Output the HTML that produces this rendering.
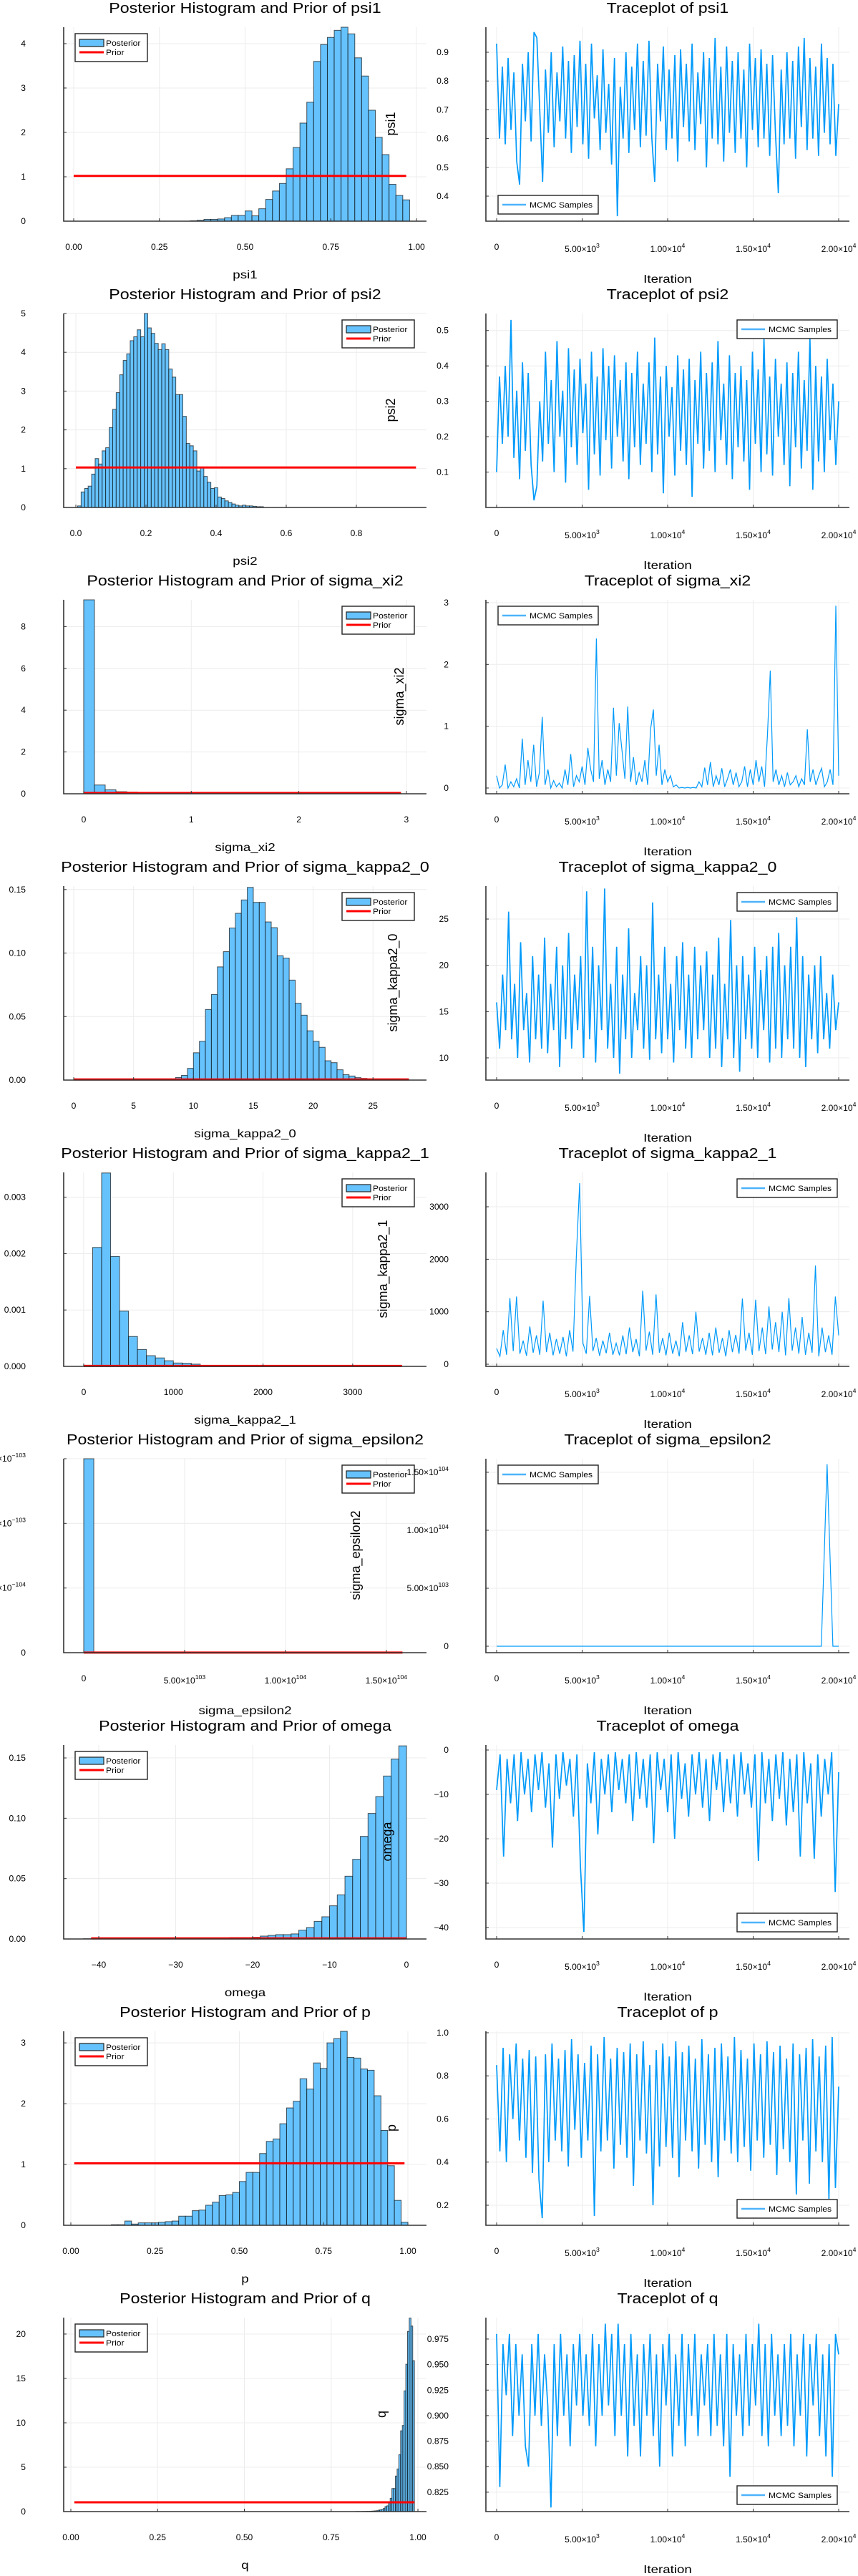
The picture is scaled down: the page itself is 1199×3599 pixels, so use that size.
<!DOCTYPE html>
<html><head><meta charset="utf-8"><title>MCMC posterior histograms and traceplots</title>
<style>
html,body{margin:0;padding:0;background:#fff;}
svg{display:block;font-family:"Liberation Sans","DejaVu Sans",sans-serif;}
</style></head>
<body>
<svg id="fig" width="1199" height="3599" viewBox="0 0 1199 3599" xmlns="http://www.w3.org/2000/svg"></svg>
<script>
// ---------------- DATA ----------------
const iterTicks=[0,5000,10000,15000,20000];
const iterTickLabels=["0","5.00×10^3","1.00×10^4","1.50×10^4","2.00×10^4"];

const psi1Heights=[0.01,0.02,0.04,0.04,0.05,0.08,0.13,0.13,0.23,0.12,0.28,0.49,0.68,0.85,1.18,1.66,2.21,2.68,3.6,3.98,4.14,4.3,4.37,4.22,3.68,3.27,2.5,1.89,1.5,0.83,0.58,0.48];
const psi1Bin=[0.34,0.02];
const psi1Prior=[1.02,0,0.97];
const psi1XTicks=[0,0.25,0.5,0.75,1];
const psi1XTickLabels=["0.00","0.25","0.50","0.75","1.00"];
const psi1YTicks=[0,1,2,3,4];
const psi1YTickLabels=["0","1","2","3","4"];
const psi1Trace=[0.93,0.6,0.85,0.58,0.88,0.63,0.83,0.52,0.44,0.86,0.66,0.9,0.59,0.97,0.95,0.7,0.45,0.84,0.62,0.9,0.57,0.83,0.66,0.92,0.6,0.87,0.55,0.89,0.64,0.94,0.58,0.86,0.53,0.93,0.67,0.82,0.56,0.91,0.62,0.79,0.51,0.88,0.33,0.78,0.6,0.9,0.55,0.85,0.63,0.93,0.57,0.87,0.61,0.94,0.6,0.45,0.86,0.66,0.92,0.56,0.84,0.6,0.89,0.52,0.91,0.64,0.86,0.59,0.93,0.56,0.83,0.65,0.9,0.5,0.88,0.6,0.95,0.58,0.85,0.52,0.92,0.62,0.87,0.55,0.9,0.6,0.84,0.5,0.93,0.63,0.88,0.57,0.91,0.6,0.86,0.54,0.89,0.62,0.41,0.84,0.58,0.9,0.6,0.87,0.53,0.92,0.64,0.95,0.56,0.88,0.6,0.85,0.54,0.93,0.62,0.88,0.58,0.86,0.54,0.72];
const psi1TraceTicks=[0.4,0.5,0.6,0.7,0.8,0.9];
const psi1TraceTickLabels=["0.4","0.5","0.6","0.7","0.8","0.9"];

const psi2Heights=[0.04,0.4,0.49,0.55,0.86,1.26,1.12,1.46,1.54,2.06,2.53,2.96,3.42,3.79,3.96,4.3,4.4,4.58,4.4,5.0,4.63,4.49,4.23,4.07,4.22,4.07,3.57,3.36,2.91,2.91,2.35,1.65,1.59,1.46,0.94,1.02,0.8,0.65,0.49,0.51,0.27,0.23,0.17,0.13,0.09,0.06,0.04,0.06,0.04,0.04,0.03,0.02,0.02];
const psi2Bin=[0.005,0.01];
const psi2Prior=[1.03,0,0.97];
const psi2XTicks=[0,0.2,0.4,0.6,0.8];
const psi2XTickLabels=["0.0","0.2","0.4","0.6","0.8"];
const psi2YTicks=[0,1,2,3,4,5];
const psi2YTickLabels=["0","1","2","3","4","5"];
const psi2Trace=[0.1,0.37,0.18,0.4,0.2,0.53,0.14,0.33,0.08,0.41,0.16,0.38,0.12,0.02,0.06,0.3,0.13,0.44,0.18,0.36,0.1,0.47,0.2,0.33,0.07,0.45,0.17,0.39,0.12,0.42,0.21,0.35,0.05,0.44,0.15,0.37,0.09,0.45,0.19,0.4,0.11,0.43,0.2,0.36,0.13,0.41,0.08,0.38,0.17,0.44,0.12,0.35,0.18,0.41,0.1,0.48,0.15,0.37,0.04,0.4,0.2,0.34,0.09,0.43,0.16,0.39,0.12,0.42,0.03,0.36,0.18,0.44,0.11,0.38,0.16,0.41,0.1,0.47,0.19,0.35,0.12,0.43,0.08,0.38,0.17,0.4,0.13,0.36,0.05,0.44,0.18,0.39,0.1,0.48,0.15,0.37,0.09,0.42,0.2,0.35,0.12,0.41,0.06,0.38,0.17,0.44,0.11,0.36,0.16,0.48,0.05,0.4,0.13,0.37,0.1,0.42,0.19,0.35,0.12,0.3];
const psi2TraceTicks=[0.1,0.2,0.3,0.4,0.5];
const psi2TraceTickLabels=["0.1","0.2","0.3","0.4","0.5"];

const xi2Heights=[9.28,0.42,0.19,0.1,0.08,0.03,0.03,0.02,0.01,0.01,0.01,0.005,0.005,0.003,0.003,0.002,0.002,0.001,0.001,0.001];
const xi2Bin=[0,0.1];
const xi2Prior=[0.04,0,2.95];
const xi2XTicks=[0,1,2,3];
const xi2XTickLabels=["0","1","2","3"];
const xi2YTicks=[0,2,4,6,8];
const xi2YTickLabels=["0","2","4","6","8"];
const xi2Trace=[0.2,0,0.05,0.38,0,0.1,0.02,0.15,0,0.8,0.05,0.45,0.1,0.7,0.02,0.25,1.15,0.05,0.3,0,0.12,0.02,0.08,0,0.3,0.05,0.55,0.02,0.2,0.1,0.35,0.05,0.65,0.3,0.1,2.42,0.15,0.45,0.05,0.3,0.1,1.3,0.2,1.05,0.6,0.15,1.32,0.1,0.5,0.05,0.25,0.1,0.45,0.05,0.95,1.27,0.2,0.7,0.05,0.3,0.1,0.2,0.02,0.05,0,0.01,0,0.01,0,0.01,0,0.1,0.02,0.33,0.05,0.42,0.02,0.2,0.05,0.32,0.02,0.15,0.3,0.05,0.25,0.02,0.1,0.35,0.02,0.3,0.05,0.45,0.1,0.35,0.02,0.85,1.9,0.1,0.3,0.05,0.2,0.02,0.25,0.05,0.1,0.2,0.02,0.15,0.05,0.95,0.1,0.3,0.05,0.2,0.32,0.02,0.1,0.3,0.05,2.95,0.2];
const xi2TraceTicks=[0,1,2,3];
const xi2TraceTickLabels=["0","1","2","3"];

const k0Heights=[0.0006,0.002,0.0037,0.0092,0.0215,0.0305,0.0556,0.0674,0.0891,0.1011,0.1197,0.1313,0.1418,0.1517,0.1399,0.1399,0.1245,0.12,0.0979,0.096,0.0787,0.0605,0.0511,0.0388,0.0305,0.0258,0.0152,0.0137,0.0081,0.0043,0.0032,0.0019,0.0013,0.0009,0.0007,0.0004,0.0004,0.0009,0.0002,0.0002];
const k0Bin=[8,0.5];
const k0Prior=[0.0005,0,28];
const k0XTicks=[0,5,10,15,20,25];
const k0XTickLabels=["0","5","10","15","20","25"];
const k0YTicks=[0,0.05,0.1,0.15];
const k0YTickLabels=["0.00","0.05","0.10","0.15"];
const k0Trace=[16,11,19,13,25.8,12,18,10,22.5,13,17,9.5,21,12,19,11,23,10.5,18,13,22,9,20,12,23.5,11,19,13,21,10,28,12,22,9.5,20,13,28.3,11,18,10,22,8.3,19,12,24,10,17,13,21,11,20,9.8,26.8,12,19,10.5,22,12,18,9.5,21,13,22.5,11,19,10,22,12,20,13,21.5,10,19,11,23,9,18,12,24.9,10,20,8.5,21,12,19,11,22,10,19.5,13,21,9.5,22,11,23.5,10,20,12,22,11,25.2,10,21,9,19,12,20,10.5,21,12,17,11,19,13,16];
const k0TraceTicks=[10,15,20,25];
const k0TraceTickLabels=["10","15","20","25"];

const k1Heights=[0.00002,0.00211,0.00343,0.00195,0.00098,0.00053,0.0003,0.00019,0.00015,0.0001,0.00006,0.000055,0.00004,0.00001,0.000008,0.000006,0.000005,0.000004,0.000003,0.000003];
const k1Bin=[0,100];
const k1Prior=[0.000008,0,3550];
const k1XTicks=[0,1000,2000,3000];
const k1XTickLabels=["0","1000","2000","3000"];
const k1YTicks=[0,0.001,0.002,0.003];
const k1YTickLabels=["0.000","0.001","0.002","0.003"];
const k1Trace=[300,150,650,180,1260,250,1290,200,450,160,720,220,550,180,1210,230,600,170,480,200,520,150,650,240,2050,3450,400,200,1300,250,500,160,450,210,600,180,400,170,550,190,700,230,480,150,1400,260,620,180,1330,220,500,170,600,200,450,150,800,230,550,190,1000,240,500,180,600,170,700,220,500,150,650,230,560,200,1250,260,600,180,1230,250,700,190,1100,280,800,230,1000,170,1260,260,700,200,900,180,600,220,1880,150,700,230,550,180,1290,550];
const k1TraceTicks=[0,1000,2000,3000];
const k1TraceTickLabels=["0","1000","2000","3000"];

const epsHeights=[1.5e-103];
const epsBin=[0,5e102];
const epsPrior=[1e-106,0,1.58e104];
const epsXTicks=[0,5e103,1e104,1.5e104];
const epsXTickLabels=["0","5.00×10^103","1.00×10^104","1.50×10^104"];
const epsYTicks=[0,5e-104,1e-103,1.5e-103];
const epsYTickLabels=["0","5.00×10^−104","1.00×10^−103","1.50×10^−103"];
const epsTrace=[0,0,0,0,0,0,0,0,0,0,0,0,0,0,0,0,0,0,0,0,0,0,0,0,0,0,0,0,0,0,0,0,0,0,0,0,0,0,0,0,0,0,0,0,0,0,0,0,0,0,0,0,0,0,0,0,0,1.57e104,0,0];
const epsTraceTicks=[0,5e103,1e104,1.5e104];
const epsTraceTickLabels=["0","5.00×10^103","1.00×10^104","1.50×10^104"];

const omegaHeights=[0.0002,0.0002,0.0002,0.0002,0.0002,0.0002,0.0002,0.0002,0.0002,0.0002,0.0002,0.0002,0.0002,0.0002,0.0002,0.0002,0.0002,0.0002,0.0002,0.0012,0.0012,0.0012,0.0014,0.0024,0.003,0.0036,0.0036,0.0042,0.0073,0.0095,0.0146,0.0184,0.0275,0.0366,0.052,0.066,0.085,0.104,0.118,0.135,0.149,0.16];
const omegaBin=[-42,1];
const omegaPrior=[0.0005,-41,0];
const omegaXTicks=[-40,-30,-20,-10,0];
const omegaXTickLabels=["−40","−30","−20","−10","0"];
const omegaYTicks=[0,0.05,0.1,0.15];
const omegaYTickLabels=["0.00","0.05","0.10","0.15"];
const omegaTrace=[-9,-1,-24,-2,-12,-1,-16,-0.5,-10,-2,-14,-1,-9,-0.5,-13,-3,-22,-1,-11,-0.5,-8,-2,-15,-1,-26,-41,-3,-12,-0.5,-19,-2,-10,-1,-14,-0.5,-9,-2,-12,-1,-16,-0.5,-11,-2,-13,-1,-21,-0.5,-9,-2,-14,-1,-20,-0.5,-11,-3,-15,-1,-10,-0.5,-13,-2,-16,-1,-9,-0.5,-14,-2,-12,-1,-15,-0.5,-10,-3,-13,-1,-25,-0.5,-12,-2,-16,-1,-11,-0.5,-17,-2,-14,-1,-24,-0.5,-12,-3,-24.5,-1,-15,-2,-10,-0.5,-32,-5];
const omegaTraceTicks=[-40,-30,-20,-10,0];
const omegaTraceTickLabels=["−40","−30","−20","−10","0"];

const pHeights=[0.01,0.01,0.07,0.02,0.04,0.04,0.04,0.05,0.06,0.07,0.15,0.15,0.24,0.25,0.33,0.38,0.49,0.5,0.54,0.72,0.87,0.87,1.18,1.38,1.42,1.67,1.93,2.04,2.41,2.24,2.67,2.58,3.0,3.07,3.2,2.76,2.75,2.57,2.55,2.13,1.56,0.98,0.41,0.05];
const pBin=[0.12,0.02];
const pPrior=[1.02,0.01,0.99];
const pXTicks=[0,0.25,0.5,0.75,1];
const pXTickLabels=["0.00","0.25","0.50","0.75","1.00"];
const pYTicks=[0,1,2,3];
const pYTickLabels=["0","1","2","3"];
const pTrace=[0.85,0.45,0.93,0.4,0.9,0.6,0.95,0.5,0.88,0.42,0.92,0.35,0.89,0.32,0.14,0.9,0.4,0.95,0.5,0.88,0.45,0.92,0.38,0.97,0.55,0.9,0.42,0.86,0.5,0.94,0.15,0.9,0.45,0.98,0.5,0.88,0.37,0.93,0.48,0.91,0.42,0.95,0.29,0.9,0.5,0.96,0.44,0.85,0.2,0.92,0.38,0.95,0.47,0.89,0.42,0.96,0.33,0.91,0.5,0.94,0.45,0.88,0.37,0.97,0.48,0.9,0.4,0.93,0.33,0.95,0.5,0.89,0.44,0.98,0.4,0.92,0.47,0.88,0.36,0.95,0.5,0.9,0.42,0.96,0.48,0.91,0.34,0.94,0.46,0.88,0.4,0.95,0.25,0.9,0.5,0.93,0.3,0.97,0.45,0.89,0.4,0.94,0.23,0.98,0.28,0.75];
const pTraceTicks=[0.2,0.4,0.6,0.8,1.0];
const pTraceTickLabels=["0.2","0.4","0.6","0.8","1.0"];

const qHeights=[0.01,0.01,0.01,0.01,0.02,0.02,0.03,0.03,0.04,0.05,0.06,0.08,0.1,0.16,0.19,0.24,0.35,0.56,0.65,1.0,1.5,2.6,2.6,4.0,4.8,6.4,9.1,9.7,13.6,16.6,20.3,21.8,20.9,17.0];
const qBin=[0.82,0.005];
const qPrior=[1.05,0.01,0.99];
const qXTicks=[0,0.25,0.5,0.75,1];
const qXTickLabels=["0.00","0.25","0.50","0.75","1.00"];
const qYTicks=[0,5,10,15,20];
const qYTickLabels=["0","5","10","15","20"];
const qTrace=[0.98,0.83,0.97,0.92,0.98,0.88,0.97,0.9,0.96,0.87,0.85,0.97,0.9,0.98,0.89,0.96,0.91,0.81,0.97,0.88,0.98,0.9,0.96,0.87,0.97,0.91,0.98,0.9,0.96,0.89,0.98,0.87,0.97,0.9,0.99,0.91,0.98,0.88,0.99,0.9,0.97,0.86,0.98,0.89,0.96,0.86,0.97,0.9,0.98,0.88,0.96,0.85,0.97,0.91,0.98,0.86,0.96,0.89,0.98,0.87,0.97,0.9,0.98,0.88,0.96,0.91,0.97,0.88,0.98,0.89,0.96,0.87,0.98,0.84,0.97,0.9,0.96,0.88,0.98,0.89,0.97,0.91,0.99,0.88,0.97,0.87,0.98,0.9,0.96,0.88,0.97,0.89,0.98,0.87,0.96,0.9,0.98,0.86,0.97,0.91,0.98,0.88,0.96,0.86,0.97,0.84,0.98,0.96];
const qTraceTicks=[0.825,0.85,0.875,0.9,0.925,0.95,0.975];
const qTraceTickLabels=["0.825","0.850","0.875","0.900","0.925","0.950","0.975"];

// ---------------- LAYOUT (not data) ----------------
const panels=[
 {key:'psi1',h:psi1Heights,bin:psi1Bin,prior:psi1Prior,xt:psi1XTicks,xl:psi1XTickLabels,yt:psi1YTicks,yl:psi1YTickLabels,tr:psi1Trace,tt:psi1TraceTicks,tl:psi1TraceTickLabels,
  xd:[-0.0292,1.0292],yd:[0,4.37],td:[0.313,0.987],leg:'tl',tleg:'bl',ylx:546,tw:1.7},
 {key:'psi2',h:psi2Heights,bin:psi2Bin,prior:psi2Prior,xt:psi2XTicks,xl:psi2XTickLabels,yt:psi2YTicks,yl:psi2YTickLabels,tr:psi2Trace,tt:psi2TraceTicks,tl:psi2TraceTickLabels,
  xd:[-0.0347,1.0],yd:[0,5.0],td:[0.0,0.548],leg:'tr',tleg:'tr',ylx:546,tw:1.7},
 {key:'sigma_xi2',h:xi2Heights,bin:xi2Bin,prior:xi2Prior,xt:xi2XTicks,xl:xi2XTickLabels,yt:xi2YTicks,yl:xi2YTickLabels,tr:xi2Trace,tt:xi2TraceTicks,tl:xi2TraceTickLabels,
  xd:[-0.186,3.187],yd:[0,9.28],td:[-0.093,3.046],leg:'tr',tleg:'tl',ylx:558,tw:1.2},
 {key:'sigma_kappa2_0',h:k0Heights,bin:k0Bin,prior:k0Prior,xt:k0XTicks,xl:k0XTickLabels,yt:k0YTicks,yl:k0YTickLabels,tr:k0Trace,tt:k0TraceTicks,tl:k0TraceTickLabels,
  xd:[-0.84,29.47],yd:[0,0.1527],td:[7.6,28.56],leg:'tr',tleg:'tr',ylx:549,tw:1.7},
 {key:'sigma_kappa2_1',h:k1Heights,bin:k1Bin,prior:k1Prior,xt:k1XTicks,xl:k1XTickLabels,yt:k1YTicks,yl:k1YTickLabels,tr:k1Trace,tt:k1TraceTicks,tl:k1TraceTickLabels,
  xd:[-223,3823],yd:[0,0.00344],td:[-41,3655],leg:'tr',tleg:'tr',ylx:535,tw:1.2},
 {key:'sigma_epsilon2',h:epsHeights,bin:epsBin,prior:epsPrior,xt:epsXTicks,xl:epsXTickLabels,yt:epsYTicks,yl:epsYTickLabels,tr:epsTrace,tt:epsTraceTicks,tl:epsTraceTickLabels,
  xd:[-9.93e102,1.699e104],yd:[0,1.5e-103],td:[-5.56e102,1.617e104],leg:'tr',tleg:'tl',ylx:497,sup:true,tw:1.2},
 {key:'omega',h:omegaHeights,bin:omegaBin,prior:omegaPrior,xt:omegaXTicks,xl:omegaXTickLabels,yt:omegaYTicks,yl:omegaYTickLabels,tr:omegaTrace,tt:omegaTraceTicks,tl:omegaTraceTickLabels,
  xd:[-44.56,2.6],yd:[0,0.1607],td:[-42.58,1.13],leg:'tl',tleg:'br',ylx:541,tw:1.7},
 {key:'p',h:pHeights,bin:pBin,prior:pPrior,xt:pXTicks,xl:pXTickLabels,yt:pYTicks,yl:pYTickLabels,tr:pTrace,tt:pTraceTicks,tl:pTraceTickLabels,
  xd:[-0.0212,1.0552],yd:[0,3.19],td:[0.107,1.0066],leg:'tl',tleg:'br',ylx:547,tw:1.7},
 {key:'q',h:qHeights,bin:qBin,prior:qPrior,xt:qXTicks,xl:qXTickLabels,yt:qYTicks,yl:qYTickLabels,tr:qTrace,tt:qTraceTicks,tl:qTraceTickLabels,
  xd:[-0.0206,1.0247],yd:[0,21.85],td:[0.806,0.996],leg:'tl',tleg:'br',ylx:533,tw:1.7}
];

const NS='http://www.w3.org/2000/svg';
const svg=document.getElementById('fig');
function mk(tag,parent){const e=document.createElementNS(NS,tag);(parent||svg).appendChild(e);return e;}
function setA(e,o){for(const k in o)e.setAttribute(k,o[k]);return e;}
function txt(parent,str,x,y,size,anchor,stretch){
  const t=mk('text',parent);
  setA(t,{x:x,y:y,'font-size':size,'text-anchor':anchor||'middle',fill:'#000'});
  const parts=str.split('^');
  t.appendChild(document.createTextNode(parts[0]));
  if(parts.length>1){const s=mk('tspan',t);setA(s,{dy:-6,'font-size':size*0.72});s.textContent=parts[1];}
  if(stretch){try{const L=t.getComputedTextLength();if(L>0){t.setAttribute('textLength',L*stretch);t.setAttribute('lengthAdjust','spacingAndGlyphs');}}catch(e){}}
  return t;
}
const TOP=38,BOT=309;
const L0=89,L1=596,R0=679,R1=1187;

function legendBox(g,x,y,w,h){
  const r=mk('rect',g);setA(r,{x:x,y:y,width:w,height:h,fill:'#fff',stroke:'#222','stroke-width':1.4});
}

panels.forEach((P,r)=>{
  const y0=r*400;
  const row=mk('g');
  
  

  // ---------- histogram panel ----------
  const g=mk('g',row);
  
  
  const X=v=>L0+(v-P.xd[0])/(P.xd[1]-P.xd[0])*(L1-L0);
  const Y=v=>y0+BOT-(v-P.yd[0])/(P.yd[1]-P.yd[0])*(BOT-TOP);
  const grid=mk('g',g);
  
  
  P.xt.forEach(v=>{const l=mk('line',grid);setA(l,{x1:X(v),x2:X(v),y1:y0+TOP,y2:y0+BOT,stroke:'#ececec','stroke-width':1});});
  P.yt.forEach(v=>{const l=mk('line',grid);setA(l,{x1:L0,x2:L1,y1:Y(v),y2:Y(v),stroke:'#ececec','stroke-width':1});});
  const bars=mk('g',g);
  
  
  P.h.forEach((hv,i)=>{
    const a=P.bin[0]+i*P.bin[1],b=a+P.bin[1];
    const rc=mk('rect',bars);
    
    
    const yt=Math.max(Y(hv),y0+TOP);
    setA(rc,{x:X(a),y:yt,width:Math.max(X(b)-X(a),0.5),height:Math.max(Y(0)-yt,0),fill:'#66c2fc',stroke:'rgba(0,0,0,0.65)','stroke-width':1});
  });
  const pl=mk('line',g);
  
  
  setA(pl,{x1:X(P.prior[1]),x2:X(P.prior[2]),y1:Y(P.prior[0]),y2:Y(P.prior[0]),stroke:'#ff0000','stroke-width':3});
  const ax=mk('path',g);
  
  
  setA(ax,{d:`M${L0},${y0+TOP}V${y0+BOT}H${L1}`,fill:'none',stroke:'#333','stroke-width':1.6});
  P.xt.forEach((v,i)=>{
    const tk=mk('line',g);setA(tk,{x1:X(v),x2:X(v),y1:y0+BOT,y2:y0+BOT-4,stroke:'#333'});
    const t=txt(g,P.xl[i],X(v),y0+(P.xl[i].includes('^')?352:349),11.5,'middle',1.05);
    
    
  });
  P.yt.forEach((v,i)=>{
    const tk=mk('line',g);setA(tk,{x1:L0,x2:L0+4,y1:Y(v),y2:Y(v),stroke:'#333'});
    const t=txt(g,P.yl[i],36,Y(v)+4,11.5,'end',1.05);
    
    
  });
  const lg=mk('g',g);
  
  
  const lx=P.leg==='tl'?105:478;
  legendBox(lg,lx,y0+47,101,39);
  const pr=mk('rect',lg);setA(pr,{x:lx+6,y:y0+55,width:34,height:10,fill:'#66c2fc',stroke:'#222','stroke-width':1.2});
  const pt=txt(lg,'Posterior',lx+43,y0+64,11,'start',1.1);
  
  
  const prl=mk('line',lg);setA(prl,{x1:lx+6,x2:lx+40,y1:y0+73,y2:y0+73,stroke:'#ff0000','stroke-width':3});
  const prt=txt(lg,'Prior',lx+43,y0+77,11,'start',1.1);
  
  
  const ti=txt(g,'Posterior Histogram and Prior of '+P.key,(L0+L1)/2,y0+18,20,'middle',1.16);
  
  
  const xlab=txt(g,P.key,(L0+L1)/2,y0+(P.sup?395:389),16,'middle',1.17);
  
  

  // ---------- trace panel ----------
  const h=mk('g',row);
  
  
  const TX=v=>R0+(v+627)/(20627+627)*(R1-R0);
  const TY=v=>y0+BOT-(v-P.td[0])/(P.td[1]-P.td[0])*(BOT-TOP);
  const grid2=mk('g',h);
  
  
  iterTicks.forEach(v=>{const l=mk('line',grid2);setA(l,{x1:TX(v),x2:TX(v),y1:y0+TOP,y2:y0+BOT,stroke:'#ececec'});});
  P.tt.forEach(v=>{const l=mk('line',grid2);setA(l,{x1:R0,x2:R1,y1:TY(v),y2:TY(v),stroke:'#ececec'});});
  const cid='clip'+r;
  const cp=mk('clipPath',h);cp.setAttribute('id',cid);
  const cr=mk('rect',cp);setA(cr,{x:R0,y:y0+TOP,width:R1-R0,height:BOT-TOP});
  const n=P.tr.length;
  const pts=P.tr.map((v,i)=>TX(i*20000/(n-1)).toFixed(2)+','+TY(v).toFixed(2)).join(' ');
  const line=mk('polyline',h);
  
  
  setA(line,{points:pts,fill:'none',stroke:'#009afa','stroke-width':P.tw,'clip-path':`url(#${cid})`,'stroke-linejoin':'miter'});
  const ax2=mk('path',h);
  
  
  setA(ax2,{d:`M${R0},${y0+TOP}V${y0+BOT}H${R1}`,fill:'none',stroke:'#333','stroke-width':1.6});
  iterTicks.forEach((v,i)=>{
    const tk=mk('line',h);setA(tk,{x1:TX(v),x2:TX(v),y1:y0+BOT,y2:y0+BOT-4,stroke:'#333'});
    const t=txt(h,iterTickLabels[i],TX(v),y0+(i===0?349:352),11.5,'middle',1.05);
    
    
  });
  P.tt.forEach((v,i)=>{
    const tk=mk('line',h);setA(tk,{x1:R0,x2:R0+4,y1:TY(v),y2:TY(v),stroke:'#333'});
    const t=txt(h,P.tl[i],627,TY(v)+4,11.5,'end',1.05);
    
    
  });
  const tg=mk('g',h);
  
  
  const tlx=(P.tleg==='tl'||P.tleg==='bl')?696:1030;
  const tly=(P.tleg==='br'||P.tleg==='bl')?y0+273:y0+47;
  legendBox(tg,tlx,tly,140,26);
  const ll=mk('line',tg);setA(ll,{x1:tlx+6,x2:tlx+39,y1:tly+13,y2:tly+13,stroke:'#4db3fb','stroke-width':2.5});
  const lt=txt(tg,'MCMC Samples',tlx+44,tly+17,11,'start',1.1);
  
  
  const t2=txt(h,'Traceplot of '+P.key,(R0+R1)/2,y0+18,20,'middle',1.16);
  
  
  const it=txt(h,'Iteration',(R0+R1)/2,y0+395,16,'middle',1.17);
  
  
  const yl=mk('text',row);
  
  
  setA(yl,{x:0,y:0,'font-size':18,'text-anchor':'middle',transform:`translate(${P.ylx+6},${y0+173}) rotate(-90)`,fill:'#000'});
  yl.textContent=P.key;
});
</script>
</body></html>
